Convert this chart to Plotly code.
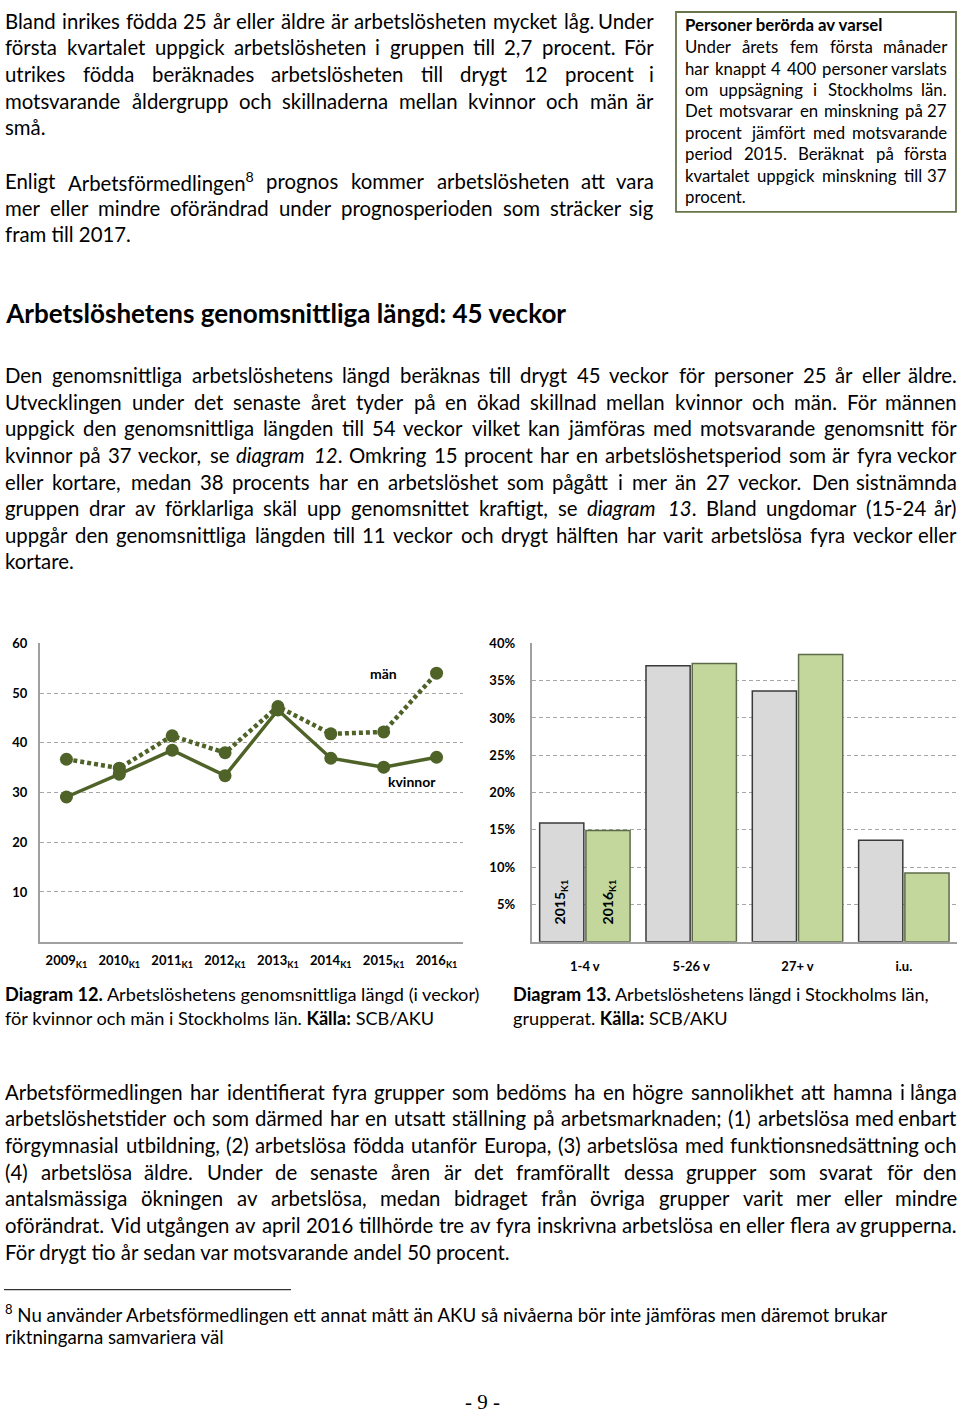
import os, re, glob, struct
import plotly.graph_objects as go

W, H = 960, 1413

# ---------------- chart data ----------------
years = ["2009", "2010", "2011", "2012", "2013", "2014", "2015", "2016"]
year_labels = [f"<b>{y}<sub>K1</sub></b>" for y in years]
man_weeks = [36.7, 34.9, 41.4, 38.0, 47.3, 41.8, 42.2, 54.0]
kvinnor_weeks = [29.1, 33.7, 38.5, 33.4, 46.6, 36.9, 35.1, 37.1]
y1_ticks = [10, 20, 30, 40, 50, 60]

groups = ["1-4 v", "5-26 v", "27+ v", "i.u."]
share_2015 = [15.9, 37.0, 33.6, 13.6]
share_2016 = [14.9, 37.3, 38.5, 9.2]
y2_ticks = [5, 10, 15, 20, 25, 30, 35, 40]

# ---------------- page text ----------------
top_par1 = [
    "Bland inrikes födda 25 år eller äldre är arbetslösheten mycket låg. Under",
    "första kvartalet uppgick arbetslösheten i gruppen till 2,7 procent. För",
    "utrikes födda beräknades arbetslösheten till drygt 12 procent i",
    "motsvarande åldergrupp och skillnaderna mellan kvinnor och män är",
    "små.",
]
top_par2 = [
    "Enligt Arbetsförmedlingen<sup>8</sup> prognos kommer arbetslösheten att vara",
    "mer eller mindre oförändrad under prognosperioden som sträcker sig",
    "fram till 2017.",
]
heading = "Arbetslöshetens genomsnittliga längd: 45 veckor"
main_par = [
    "Den genomsnittliga arbetslöshetens längd beräknas till drygt 45 veckor för personer 25 år eller äldre.",
    "Utvecklingen under det senaste året tyder på en ökad skillnad mellan kvinnor och män. För männen",
    "uppgick den genomsnittliga längden till 54 veckor vilket kan jämföras med motsvarande genomsnitt för",
    "kvinnor på 37 veckor, se <i>diagram 12</i>. Omkring 15 procent har en arbetslöshetsperiod som är fyra veckor",
    "eller kortare, medan 38 procents har en arbetslöshet som pågått i mer än 27 veckor. Den sistnämnda",
    "gruppen drar av förklarliga skäl upp genomsnittet kraftigt, se <i>diagram 13</i>. Bland ungdomar (15-24 år)",
    "uppgår den genomsnittliga längden till 11 veckor och drygt hälften har varit arbetslösa fyra veckor eller",
    "kortare.",
]
bottom_par = [
    "Arbetsförmedlingen har identifierat fyra grupper som bedöms ha en högre sannolikhet att hamna i långa",
    "arbetslöshetstider och som därmed har en utsatt ställning på arbetsmarknaden; (1) arbetslösa med enbart",
    "förgymnasial utbildning, (2) arbetslösa födda utanför Europa, (3) arbetslösa med funktionsnedsättning och",
    "(4) arbetslösa äldre. Under de senaste åren är det framförallt dessa grupper som svarat för den",
    "antalsmässiga ökningen av arbetslösa, medan bidraget från övriga grupper varit mer eller mindre",
    "oförändrat. Vid utgången av april 2016 tillhörde tre av fyra inskrivna arbetslösa en eller flera av grupperna.",
    "För drygt tio år sedan var motsvarande andel 50 procent.",
]
box_title = "Personer berörda av varsel"
box_lines = [
    "Under årets fem första månader",
    "har knappt 4 400 personer varslats",
    "om uppsägning i Stockholms län.",
    "Det motsvarar en minskning på 27",
    "procent jämfört med motsvarande",
    "period 2015. Beräknat på första",
    "kvartalet uppgick minskning till 37",
    "procent.",
]
cap12 = ["<b>Diagram 12.</b> Arbetslöshetens genomsnittliga längd (i veckor)",
         "för kvinnor och män i Stockholms län. <b>Källa:</b> SCB/AKU"]
cap13 = ["<b>Diagram 13.</b> Arbetslöshetens längd i Stockholms län,",
         "grupperat. <b>Källa:</b> SCB/AKU"]
footnote = ["<sup>8</sup> Nu använder Arbetsförmedlingen ett annat mått än AKU så nivåerna bör inte jämföras men däremot brukar",
            "riktningarna samvariera väl"]
page_no = "- 9 -"

FONT = "Lato"
OLIVE = "#4F6228"


# ---------------- simple font metrics (for justified text) ----------------
def find_font(names):
    roots = ["/usr/share/fonts", "/usr/local/share/fonts",
             os.path.expanduser("~/.fonts"), os.path.expanduser("~/.local/share/fonts")]
    for n in names:
        for r in roots:
            hits = glob.glob(os.path.join(r, "**", n), recursive=True)
            if hits:
                return hits[0]
    return None


def load_width_fn(path, fallback=0.48):
    if not path:
        return lambda s, size: len(s) * fallback * size
    try:
        data = open(path, "rb").read()
        nt = struct.unpack(">H", data[4:6])[0]
        tabs = {}
        for i in range(nt):
            tag, cs, off, ln = struct.unpack(">4sIII", data[12 + 16 * i:28 + 16 * i])
            tabs[tag.decode("latin1")] = off
        upem = struct.unpack(">H", data[tabs["head"] + 18:tabs["head"] + 20])[0]
        nhm = struct.unpack(">H", data[tabs["hhea"] + 34:tabs["hhea"] + 36])[0]
        ho = tabs["hmtx"]
        adv = [struct.unpack(">H", data[ho + 4 * i:ho + 4 * i + 2])[0] for i in range(nhm)]
        co = tabs["cmap"]
        n = struct.unpack(">H", data[co + 2:co + 4])[0]
        sub = None
        for i in range(n):
            pid, eid, so = struct.unpack(">HHI", data[co + 4 + 8 * i:co + 12 + 8 * i])
            if (pid == 3 and eid == 1) or pid == 0:
                fmt = struct.unpack(">H", data[co + so:co + so + 2])[0]
                if fmt == 4:
                    sub = co + so
                    break
        seg2 = struct.unpack(">H", data[sub + 6:sub + 8])[0]
        segs = seg2 // 2
        ends = struct.unpack(">%dH" % segs, data[sub + 14:sub + 14 + seg2])
        starts = struct.unpack(">%dH" % segs, data[sub + 16 + seg2:sub + 16 + 2 * seg2])
        deltas = struct.unpack(">%dh" % segs, data[sub + 16 + 2 * seg2:sub + 16 + 3 * seg2])
        rpos = sub + 16 + 3 * seg2
        roffs = struct.unpack(">%dH" % segs, data[rpos:rpos + seg2])
        cache = {}

        def glyph(c):
            for i in range(segs):
                if starts[i] <= c <= ends[i]:
                    if roffs[i] == 0:
                        return (c + deltas[i]) & 0xFFFF
                    a = rpos + 2 * i + roffs[i] + 2 * (c - starts[i])
                    g = struct.unpack(">H", data[a:a + 2])[0]
                    return (g + deltas[i]) & 0xFFFF if g else 0
            return 0

        def adv_of(ch):
            if ch not in cache:
                g = glyph(ord(ch))
                cache[ch] = adv[min(g, nhm - 1)] / upem
            return cache[ch]

        return lambda s, size: sum(adv_of(ch) for ch in s) * size
    except Exception:
        return lambda s, size: len(s) * fallback * size


w_reg = load_width_fn(find_font(["Lato-Regular.ttf", "Lato-Reg*.ttf"]), 0.48)
w_bold = load_width_fn(find_font(["Lato-Bold.ttf", "Lato-Bol*.ttf"]), 0.50)


def plain(s):
    s = re.sub(r"<sup>.*?</sup>", "", s)
    return re.sub(r"<[^>]+>", "", s)


def rich_width(s, size):
    tot = 0
    for part in re.split(r"(<b>.*?</b>)", s):
        if part.startswith("<b>"):
            tot += w_bold(plain(part), size)
        else:
            tot += w_reg(plain(part), size)
    for sp in re.findall(r"<sup>(.*?)</sup>", s):
        tot += w_reg(sp, size * 0.7)
    return tot


def split_words(line):
    out, ital = [], False
    for w in line.split(" "):
        start = ital
        if "<i>" in w:
            ital = True
        if "</i>" in w:
            ital = False
        s = w
        if start:
            s = "<i>" + s
        if ital:
            s = s + "</i>"
        out.append(s)
    return out


anns = []


def txt(text, xpx, ypx, size, anchor="left", family=FONT, color="black"):
    anns.append(dict(text=text, x=xpx / W, y=1 - ypx / H, xref="paper", yref="paper",
                     xanchor=anchor, yanchor="middle", showarrow=False, borderpad=0,
                     font=dict(family=family, size=size, color=color)))


def paragraph(lines, x0, x1, y0, dy, size, bold=False):
    for k, line in enumerate(lines):
        y = y0 + k * dy
        last = k == len(lines) - 1
        words = split_words(line)
        if last or len(words) == 1:
            txt(f"<b>{line}</b>" if bold else line, x0, y, size)
            continue
        widths = [rich_width(w, size) for w in words]
        gap = (x1 - x0 - sum(widths)) / (len(words) - 1)
        x = x0
        for i, (w, wd) in enumerate(zip(words, widths)):
            if i == len(words) - 1:
                txt(w, x1, y, size, anchor="right")
            else:
                txt(w, x, y, size)
            x += wd + gap


# font sizes calibrated to the reference widths
body_size = 509 / rich_width(bottom_par[-1], 1)
head_size = 564 / w_bold(heading, 1)
box_size = 200 / w_bold(box_title, 1)
cap_size = 432 / rich_width(cap12[1], 1)
foot_size = 220 / w_reg(footnote[1], 1)

paragraph(top_par1, 4, 655, 13, 26.7, body_size)
paragraph(top_par2, 4, 655, 174, 26.7, body_size)
txt(f"<b>{heading}</b>", 4, 307, head_size)
paragraph(main_par, 4, 958, 369, 26.8, body_size)
paragraph(bottom_par, 4, 958, 1090, 26.8, body_size)

txt(f"<b>{box_title}</b>", 684, 17, box_size)
paragraph(box_lines, 684, 948, 39, 21.5, box_size)

for k, c in enumerate(cap12):
    txt(c, 4, 992 + 24 * k, cap_size)
for k, c in enumerate(cap13):
    txt(c, 512, 992 + 24 * k, cap_size)
for k, c in enumerate(footnote):
    txt(c, 4, 1313 + 24 * k, foot_size)
txt(page_no, 482, 1402, 21, anchor="center", family="Liberation Serif")

# ---------------- figure ----------------
fig = go.Figure()

fig.add_trace(go.Scatter(x=years, y=man_weeks, mode="lines+markers", name="män",
                         line=dict(color=OLIVE, width=4.5, dash="4px,3px"),
                         marker=dict(color=OLIVE, size=13), xaxis="x", yaxis="y"))
fig.add_trace(go.Scatter(x=years, y=kvinnor_weeks, mode="lines+markers", name="kvinnor",
                         line=dict(color=OLIVE, width=3.5),
                         marker=dict(color=OLIVE, size=13), xaxis="x", yaxis="y"))

fig.add_trace(go.Bar(x=groups, y=share_2015, name="2015K1", xaxis="x2", yaxis="y2",
                     marker=dict(color="#D9D9D9", line=dict(color="#3A3A3A", width=1.5))))
fig.add_trace(go.Bar(x=groups, y=share_2016, name="2016K1", xaxis="x2", yaxis="y2",
                     marker=dict(color="#C3D69B", line=dict(color="#5E6B4A", width=1.5))))

ytop, ybot = 639, 939
ydom = [1 - ybot / H, 1 - ytop / H]
grid = dict(showgrid=True, gridcolor="#A6A6A6", gridwidth=1.3, griddash="4px,3px")
tickfont = dict(family=FONT, size=13, color="black")

fig.update_layout(
    width=W, height=H, margin=dict(l=0, r=0, t=0, b=0),
    paper_bgcolor="white", plot_bgcolor="white", showlegend=False,
    font=dict(family=FONT, color="black"),
    barmode="group", bargap=0.13, bargroupgap=0.045,
    xaxis=dict(domain=[40 / W, 463 / W], range=[-0.5, 7.5], type="category",
               tickvals=years, ticktext=year_labels, showgrid=False, ticks="",
               showline=True, linecolor="#A0A0A0", linewidth=2, tickfont=tickfont,
               ticklabelstandoff=6, zeroline=False),
    yaxis=dict(domain=ydom, range=[0, 60], tickvals=y1_ticks,
               ticktext=[f"<b>{v}</b>" for v in y1_ticks], ticks="",
               showline=True, linecolor="#A0A0A0", linewidth=2, tickfont=tickfont,
               ticklabelstandoff=8, zeroline=False, **grid),
    xaxis2=dict(domain=[531.7 / W, 957 / W], range=[-0.5, 3.5], type="category",
                tickvals=groups, ticktext=[f"<b>{g}</b>" for g in groups],
                showgrid=False, ticks="", showline=True, linecolor="#A0A0A0",
                linewidth=2, tickfont=tickfont, ticklabelstandoff=12, anchor="y2"),
    yaxis2=dict(domain=ydom, range=[0, 40], tickvals=y2_ticks,
                ticktext=[f"<b>{v}%</b>" for v in y2_ticks], ticks="", anchor="x2",
                showline=True, linecolor="#A0A0A0", linewidth=2, tickfont=tickfont,
                ticklabelstandoff=12, zeroline=False, **grid),
)

# series labels in chart 1
anns.append(dict(text="<b>män</b>", x=6, y=54, xref="x", yref="y", showarrow=False,
                 font=dict(family=FONT, size=14, color="black")))
anns.append(dict(text="<b>kvinnor</b>", x=6.53, y=32.2, xref="x", yref="y", showarrow=False,
                 font=dict(family=FONT, size=14, color="black")))
# rotated year labels inside first bars of chart 2
for lab, shift in [("2015", -24), ("2016", 24)]:
    anns.append(dict(text=f"<b>{lab}<sub>K1</sub></b>", x=groups[0], y=2.1, xref="x2", yref="y2",
                     xshift=shift, yanchor="bottom", textangle=-90, showarrow=False,
                     font=dict(family=FONT, size=14, color="black")))

fig.update_layout(annotations=anns)

# text box and footnote rule
fig.add_shape(type="rect", xref="paper", yref="paper", x0=676 / W, x1=956 / W,
              y0=1 - 205 / H, y1=1 - 4 / H, line=dict(color="#66744A", width=1.8))
fig.add_shape(type="line", xref="paper", yref="paper", x0=4 / W, x1=291 / W,
              y0=1 - 1289 / H, y1=1 - 1289 / H, line=dict(color="black", width=1))

fig.write_html(
    "out.html",
    config={"displayModeBar": False},
    post_script="document.body.style.margin='0';document.body.style.overflow='hidden';"
                "document.documentElement.style.overflow='hidden';",
)
